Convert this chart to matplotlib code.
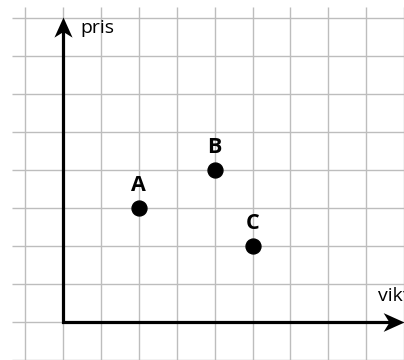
import numpy as np
import matplotlib
matplotlib.use("Agg")
import matplotlib.pyplot as plt
from matplotlib.path import Path

# points on the grid (vikt, pris)
names = ['A', 'B', 'C']
vikt = [2, 4, 5]
pris = [3, 4, 2]

x_label = 'vikt'
y_label = 'pris'

plt.rcParams['font.family'] = ['Open Sans', 'DejaVu Sans']

fig = plt.figure(figsize=(4.04, 3.60), dpi=100)
ax = fig.add_axes([0, 0, 1, 1])
ax.set_xlim(-1.645, 8.987)
ax.set_ylim(-1.0, 8.474)
ax.axis('off')

# light grid, drawn by hand so it stops short of the top/left edge
grid_kw = dict(color='#bdbdbd', lw=1.0, zorder=1)
ax.vlines(np.arange(-1, 10), -1.0, 8.3, **grid_kw)
ax.hlines(np.arange(-1, 9), -1.33, 9.0, **grid_kw)

# axes with stealth-style arrow heads
# (custom markers get scaled to half the markersize, so size = 2 * head length)
x_tip, y_tip = 8.98, 8.03
ax.plot([0, 0, x_tip - 0.35], [y_tip - 0.35, 0, 0], color='black', lw=2.3,
        solid_joinstyle='miter', solid_capstyle='butt', zorder=3)
head_up = Path([(0, 0), (-0.45, -1), (0, -0.72), (0.45, -1), (0, 0)],
               [Path.MOVETO, Path.LINETO, Path.LINETO, Path.LINETO, Path.CLOSEPOLY])
head_right = Path([(0, 0), (-1, 0.45), (-0.72, 0), (-1, -0.45), (0, 0)],
                  [Path.MOVETO, Path.LINETO, Path.LINETO, Path.LINETO, Path.CLOSEPOLY])
ax.plot([0], [y_tip], marker=head_up, markersize=29, color='black',
        markeredgewidth=0, zorder=4)
ax.plot([x_tip], [0], marker=head_right, markersize=30, color='black',
        markeredgewidth=0, zorder=4, clip_on=False)

ax.text(0.48, 7.6, y_label, fontsize=14, ha='left', va='baseline', zorder=5)
ax.text(8.30, 0.55, x_label, fontsize=14, ha='left', va='baseline', zorder=5)

# the points and their letters
ax.scatter(vikt, pris, s=115, color='black', zorder=5)
for name, vx, py in zip(names, vikt, pris):
    ax.annotate(name, (vx, py), xytext=(0, 12.5), textcoords='offset points',
                ha='center', va='baseline', fontsize=15.5, fontweight='bold',
                zorder=5)

fig.savefig('out.png', dpi=100)
